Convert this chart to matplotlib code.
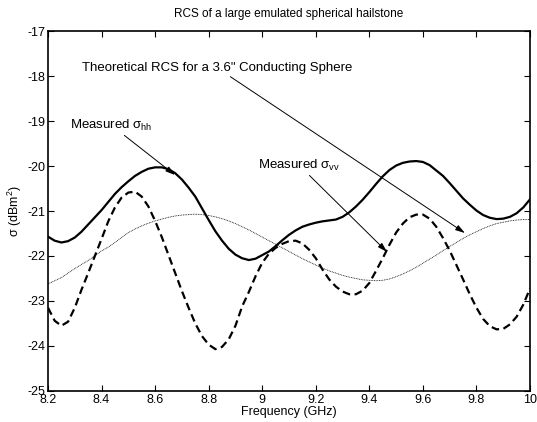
import matplotlib
matplotlib.use("Agg")
import matplotlib.pyplot as plt

plt.rcParams['font.family'] = ['Liberation Sans', 'DejaVu Sans']
plt.rcParams['mathtext.fontset'] = 'custom'
plt.rcParams['mathtext.rm'] = 'Liberation Sans'
plt.rcParams['mathtext.it'] = 'Liberation Sans'
plt.rcParams['mathtext.sf'] = 'Liberation Sans'
plt.rcParams['axes.unicode_minus'] = False

# frequency sweep (GHz)
freq = [8.200, 8.225, 8.250, 8.275, 8.300, 8.325, 8.350, 8.375, 8.400, 8.425,
        8.450, 8.475, 8.500, 8.525, 8.550, 8.575, 8.600, 8.625, 8.650, 8.675,
        8.700, 8.725, 8.750, 8.775, 8.800, 8.825, 8.850, 8.875, 8.900, 8.925,
        8.950, 8.975, 9.000, 9.025, 9.050, 9.075, 9.100, 9.125, 9.150, 9.175,
        9.200, 9.225, 9.250, 9.275, 9.300, 9.325, 9.350, 9.375, 9.400, 9.425,
        9.450, 9.475, 9.500, 9.525, 9.550, 9.575, 9.600, 9.625, 9.650, 9.675,
        9.700, 9.725, 9.750, 9.775, 9.800, 9.825, 9.850, 9.875, 9.900, 9.925,
        9.950, 9.975, 10.000]

# measured sigma_hh (dBm^2)
sigma_hh = [-21.57, -21.66, -21.70, -21.67, -21.59, -21.46, -21.30, -21.14, -20.98, -20.80,
            -20.62, -20.47, -20.34, -20.22, -20.13, -20.06, -20.03, -20.03, -20.07, -20.16,
            -20.30, -20.48, -20.68, -20.94, -21.20, -21.45, -21.66, -21.84, -21.97, -22.05,
            -22.09, -22.06, -21.98, -21.90, -21.78, -21.65, -21.53, -21.43, -21.35, -21.30,
            -21.26, -21.23, -21.21, -21.19, -21.13, -21.03, -20.90, -20.75, -20.58, -20.40,
            -20.23, -20.09, -19.99, -19.93, -19.90, -19.89, -19.91, -19.98, -20.10, -20.22,
            -20.38, -20.55, -20.72, -20.86, -20.99, -21.09, -21.15, -21.18, -21.17, -21.13,
            -21.05, -20.92, -20.74]

# measured sigma_vv (dBm^2)
sigma_vv = [-23.15, -23.44, -23.55, -23.46, -23.15, -22.75, -22.38, -22.00, -21.62, -21.23,
            -20.92, -20.70, -20.59, -20.57, -20.68, -20.90, -21.22, -21.58, -21.98, -22.38,
            -22.78, -23.15, -23.50, -23.78, -23.97, -24.07, -24.02, -23.85, -23.55, -23.12,
            -22.80, -22.45, -22.15, -21.95, -21.82, -21.73, -21.67, -21.66, -21.72, -21.86,
            -22.05, -22.30, -22.52, -22.68, -22.79, -22.85, -22.85, -22.77, -22.60, -22.33,
            -22.05, -21.75, -21.48, -21.28, -21.14, -21.08, -21.08, -21.17, -21.35, -21.60,
            -21.88, -22.20, -22.52, -22.85, -23.15, -23.40, -23.56, -23.63, -23.62, -23.52,
            -23.35, -23.08, -22.72]

# theoretical RCS, 3.6" conducting sphere (dBm^2)
theory = [-22.62, -22.55, -22.48, -22.38, -22.28, -22.19, -22.10, -21.99, -21.89, -21.80,
          -21.70, -21.59, -21.48, -21.40, -21.33, -21.27, -21.22, -21.18, -21.14, -21.11,
          -21.09, -21.08, -21.07, -21.08, -21.10, -21.13, -21.17, -21.22, -21.28, -21.35,
          -21.42, -21.50, -21.58, -21.66, -21.74, -21.82, -21.90, -21.98, -22.06, -22.13,
          -22.20, -22.27, -22.33, -22.38, -22.43, -22.47, -22.50, -22.53, -22.54, -22.55,
          -22.54, -22.51, -22.46, -22.40, -22.33, -22.25, -22.16, -22.07, -21.98, -21.88,
          -21.79, -21.70, -21.61, -21.53, -21.46, -21.39, -21.33, -21.28, -21.25, -21.22,
          -21.20, -21.19, -21.19]

xticks = [8.2, 8.4, 8.6, 8.8, 9, 9.2, 9.4, 9.6, 9.8, 10]
xticklabels = ['8.2', '8.4', '8.6', '8.8', '9', '9.2', '9.4', '9.6', '9.8', '10']
yticks = [-25, -24, -23, -22, -21, -20, -19, -18, -17]

fig = plt.figure(figsize=(5.37, 4.22), dpi=100)
ax = fig.add_axes([0.0894, 0.0735, 0.8976, 0.853])

ax.plot(freq, sigma_hh, color='black', linewidth=1.6)
ax.plot(freq, sigma_vv, color='black', linewidth=1.6, linestyle=(0, (3.5, 2)))
ax.plot(freq, theory, color='black', linewidth=0.6, linestyle=(0, (1, 1)))

ax.set_xlim(8.2, 10)
ax.set_ylim(-25, -17)
ax.set_xticks(xticks)
ax.set_xticklabels(xticklabels)
ax.set_yticks(yticks)
ax.tick_params(direction='in', top=True, right=True, length=4, width=0.8,
               labelsize=9, pad=2)
for s in ax.spines.values():
    s.set_linewidth(1.2)

ax.set_title('RCS of a large emulated spherical hailstone', fontsize=8.5, pad=10)
ax.set_xlabel('Frequency (GHz)', fontsize=9, labelpad=0)
ax.set_ylabel(r'$\sigma$ (dBm$^2$)', fontsize=9, labelpad=2)

arrow = dict(arrowstyle='-|>,head_length=0.6,head_width=0.18', color='black',
             lw=0.7, shrinkA=0, shrinkB=0)
ax.annotate('Theoretical RCS for a 3.6" Conducting Sphere', xy=(9.757, -21.49),
            xytext=(8.327, -17.82), fontsize=9.5, va='center', ha='left',
            arrowprops=arrow)
ax.annotate(r'Measured $\sigma_{\rm hh}$', xy=(8.674, -20.2),
            xytext=(8.282, -19.09), fontsize=9.5, va='center', ha='left',
            arrowprops=arrow)
ax.annotate(r'Measured $\sigma_{\rm vv}$', xy=(9.466, -21.91),
            xytext=(8.984, -19.98), fontsize=9.5, va='center', ha='left',
            arrowprops=arrow)

fig.savefig('out.png', dpi=100)
